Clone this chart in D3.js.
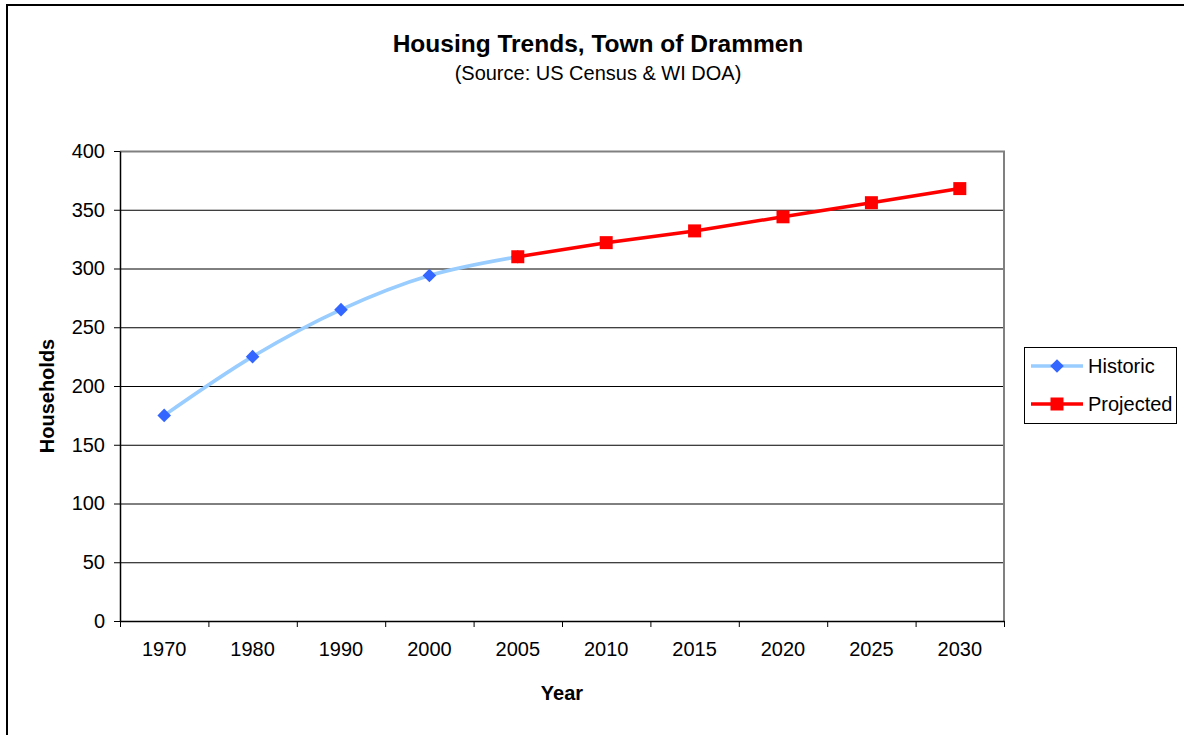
<!DOCTYPE html>
<html>
<head>
<meta charset="utf-8">
<script src="https://cdn.jsdelivr.net/npm/d3@7"></script>
<style>
  body { margin: 0; background: #fff; }
  svg { font-family: "Liberation Sans", Arial, sans-serif; }
</style>
</head>
<body>
<div class="visualisation"></div>
<script>
var years = ["1970", "1980", "1990", "2000", "2005", "2010", "2015", "2020", "2025", "2030"];
var historicYears = ["1970", "1980", "1990", "2000", "2005"];
var historicValues = [175, 225, 265, 294, 310];
var projectedYears = ["2005", "2010", "2015", "2020", "2025", "2030"];
var projectedValues = [310, 322, 332, 344, 356, 368];
var yTicks = [0, 50, 100, 150, 200, 250, 300, 350, 400];

var margin = {top: 151, left: 120},
    width = 884,
    height = 470;

var svg = d3.select(".visualisation").append("svg")
    .attr("width", 1184)
    .attr("height", 735);

// outer chart border
svg.append("rect")
    .attr("x", 7).attr("y", 5)
    .attr("width", 1200).attr("height", 760)
    .attr("fill", "none")
    .attr("stroke", "#000")
    .attr("stroke-width", 2);

svg.append("text")
    .attr("x", 598).attr("y", 52)
    .attr("text-anchor", "middle")
    .attr("font-size", 24.5).attr("font-weight", "bold")
    .text("Housing Trends, Town of Drammen");

svg.append("text")
    .attr("x", 598).attr("y", 80)
    .attr("text-anchor", "middle")
    .attr("font-size", 20)
    .text("(Source: US Census & WI DOA)");

var g = svg.append("g")
    .attr("transform", "translate(" + margin.left + "," + margin.top + ")");

var x = d3.scaleBand().domain(years).range([0, width]);
var y = d3.scaleLinear().domain([0, 400]).range([height, 0]);
var cx = function(d) { return x(d) + x.bandwidth() / 2; };

// gridlines
g.selectAll(".grid").data(yTicks.filter(function(d) { return d > 0 && d < 400; }))
  .enter().append("line")
    .attr("x1", 0).attr("x2", width)
    .attr("y1", function(d) { return y(d) + 0.5; })
    .attr("y2", function(d) { return y(d) + 0.5; })
    .attr("stroke", "#000").attr("stroke-width", 1);

// plot frame top/right
g.append("path")
    .attr("d", "M0,0.5H" + width + "V" + height)
    .attr("fill", "none").attr("stroke", "#808080").attr("stroke-width", 2);

var yAxis = g.append("g")
    .call(d3.axisLeft(y).tickValues(yTicks).tickSize(6).tickSizeOuter(0).tickPadding(9));
yAxis.select(".domain").attr("stroke", "#000").attr("stroke-width", 1.5);
yAxis.selectAll("text").attr("font-size", 20).attr("fill", "#000")
    .attr("font-family", "Liberation Sans, Arial, sans-serif");

var xAxis = g.append("g")
    .attr("transform", "translate(0," + height + ")")
    .call(d3.axisBottom(x).tickSize(0).tickPadding(21));
xAxis.select(".domain").attr("stroke", "#000").attr("stroke-width", 1.5);
xAxis.selectAll("text").attr("font-size", 20).attr("fill", "#000")
    .attr("font-family", "Liberation Sans, Arial, sans-serif");

// ticks between categories
g.selectAll(".xtick").data(d3.range(years.length + 1))
  .enter().append("line")
    .attr("x1", function(i) { return i * x.step() + 0.5; })
    .attr("x2", function(i) { return i * x.step() + 0.5; })
    .attr("y1", height).attr("y2", height + 6)
    .attr("stroke", "#000");

svg.append("text")
    .attr("transform", "translate(54,396) rotate(-90)")
    .attr("text-anchor", "middle")
    .attr("font-size", 20).attr("font-weight", "bold")
    .text("Households");

svg.append("text")
    .attr("x", 562).attr("y", 700)
    .attr("text-anchor", "middle")
    .attr("font-size", 20).attr("font-weight", "bold")
    .text("Year");

var historic = historicYears.map(function(d, i) { return {year: d, value: historicValues[i]}; });
var projected = projectedYears.map(function(d, i) { return {year: d, value: projectedValues[i]}; });

var lineSmooth = d3.line()
    .x(function(d) { return cx(d.year); })
    .y(function(d) { return y(d.value); })
    .curve(d3.curveCatmullRom.alpha(0.5));
var lineStraight = d3.line()
    .x(function(d) { return cx(d.year); })
    .y(function(d) { return y(d.value); });

g.append("path").datum(historic)
    .attr("d", lineSmooth)
    .attr("fill", "none").attr("stroke", "#99CCFF").attr("stroke-width", 3.5);

var diamond = d3.symbol().type(d3.symbolSquare).size(92);
g.selectAll(".hist").data(historic).enter().append("path")
    .attr("d", diamond)
    .attr("transform", function(d) { return "translate(" + cx(d.year) + "," + y(d.value) + ") rotate(45)"; })
    .attr("fill", "#3366FF");

g.append("path").datum(projected)
    .attr("d", lineStraight)
    .attr("fill", "none").attr("stroke", "#FF0000").attr("stroke-width", 3.5);

g.selectAll(".proj").data(projected).enter().append("rect")
    .attr("x", function(d) { return cx(d.year) - 6.5; })
    .attr("y", function(d) { return y(d.value) - 6.5; })
    .attr("width", 13).attr("height", 13)
    .attr("fill", "#FF0000");

// legend
var legend = svg.append("g").attr("transform", "translate(1024,347)");
legend.append("rect")
    .attr("x", 0.5).attr("y", 0.5).attr("width", 152).attr("height", 76)
    .attr("fill", "#fff").attr("stroke", "#000");

var lg1 = legend.append("g").attr("transform", "translate(0,19)");
lg1.append("line").attr("x1", 7).attr("x2", 59).attr("stroke", "#99CCFF").attr("stroke-width", 3.5);
lg1.append("path").attr("d", diamond).attr("transform", "translate(33,0) rotate(45)").attr("fill", "#3366FF");
lg1.append("text").attr("x", 64).attr("y", 7).attr("font-size", 20).text("Historic");

var lg2 = legend.append("g").attr("transform", "translate(0,57)");
lg2.append("line").attr("x1", 7).attr("x2", 59).attr("stroke", "#FF0000").attr("stroke-width", 3.5);
lg2.append("rect").attr("x", 26.5).attr("y", -6.5).attr("width", 13).attr("height", 13).attr("fill", "#FF0000");
lg2.append("text").attr("x", 64).attr("y", 7).attr("font-size", 20).text("Projected");
</script>
</body>
</html>
